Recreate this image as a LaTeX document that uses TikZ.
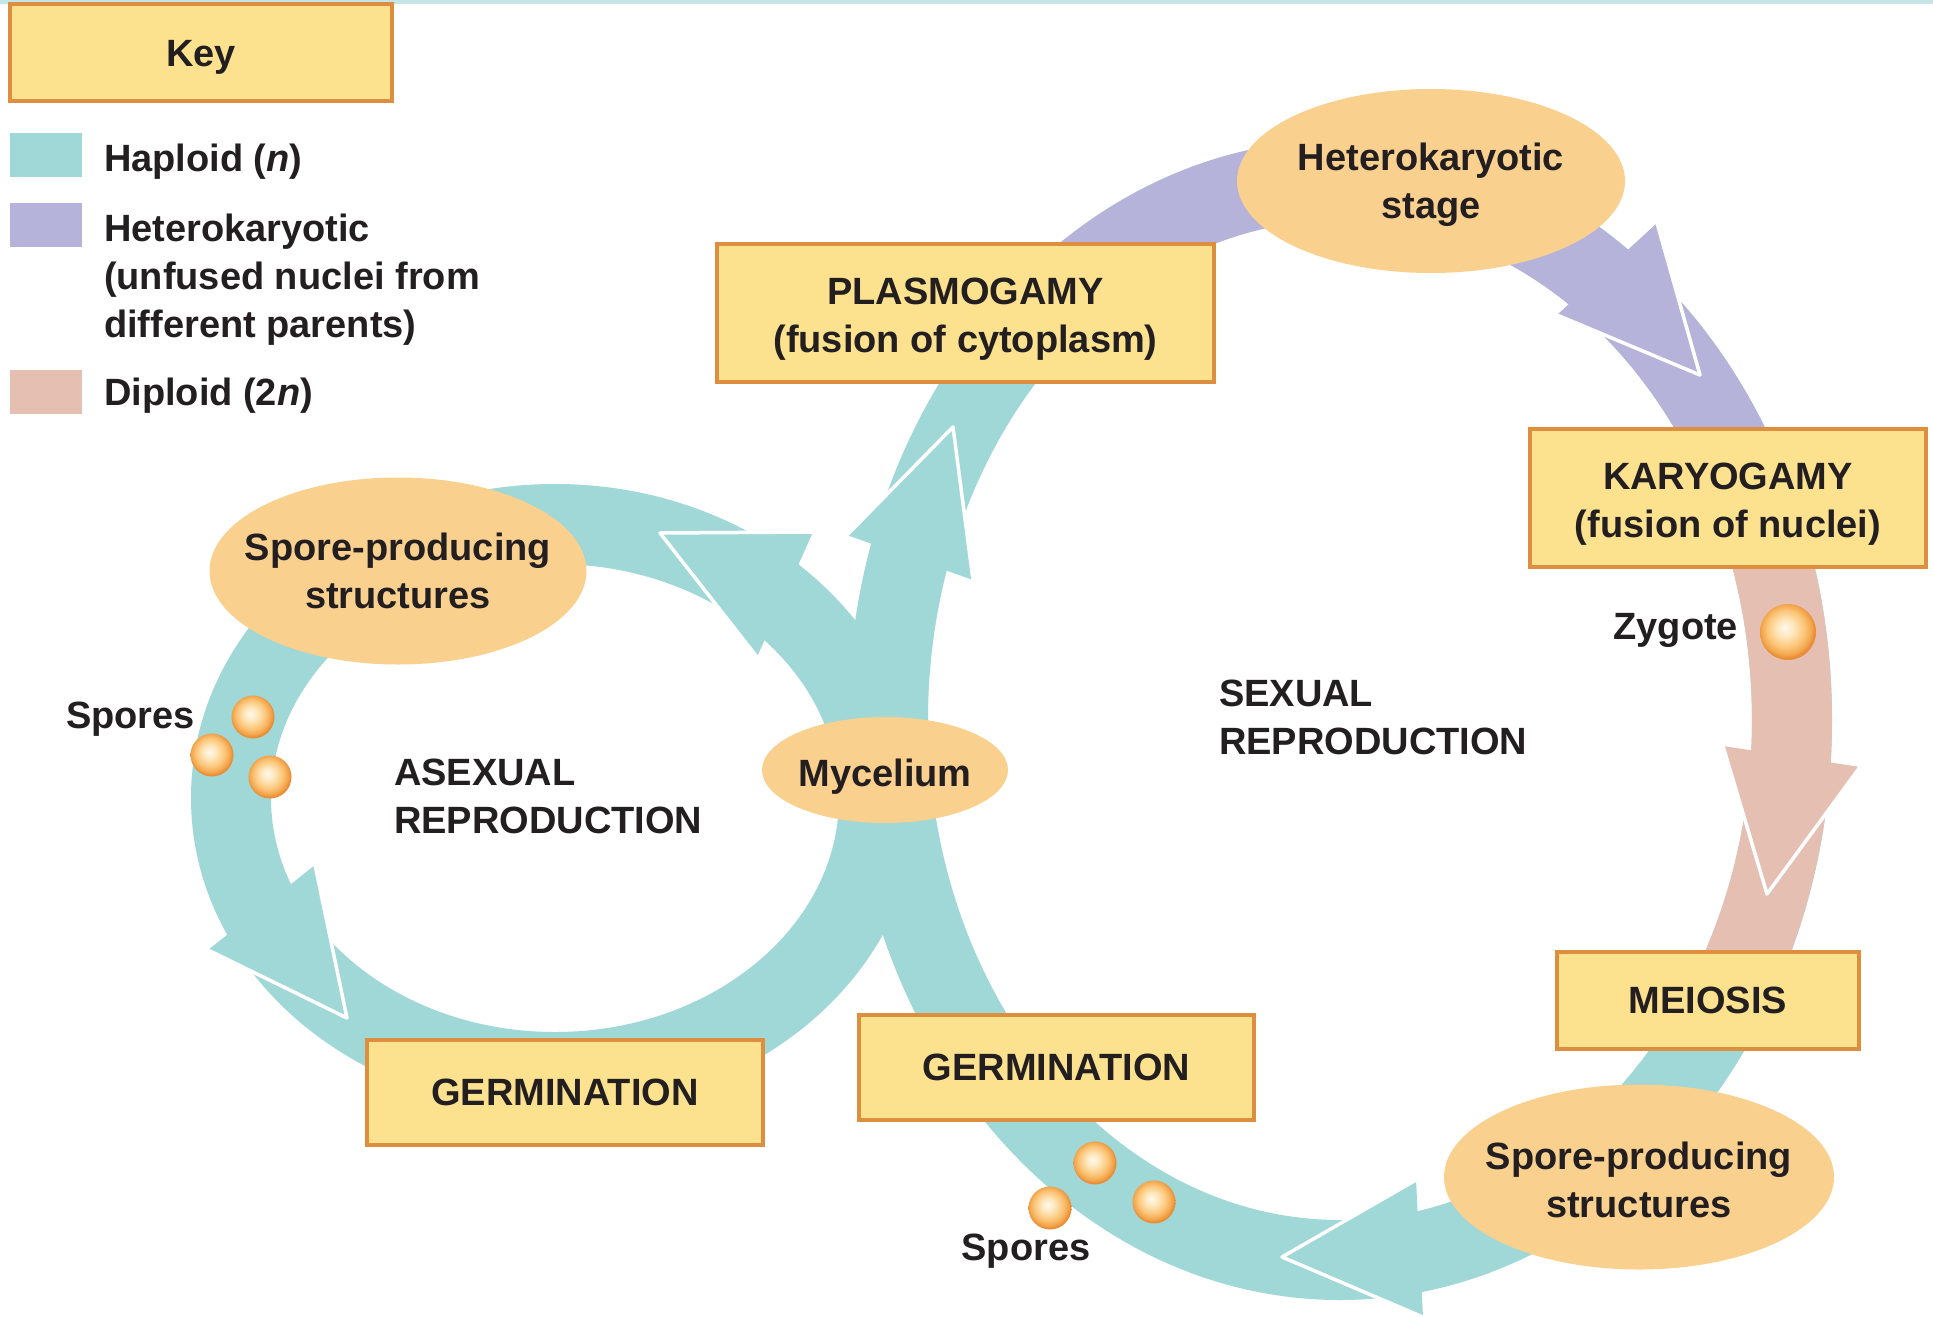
\documentclass[tikz,border=0pt]{standalone}
\usepackage{fontspec}
\setmainfont{Liberation Sans}
\usetikzlibrary{shapes.geometric}
\definecolor{tealc}{RGB}{160,215,215}
\definecolor{purc}{RGB}{182,179,218}
\definecolor{pinkc}{RGB}{229,191,178}
\definecolor{boxfill}{RGB}{252,225,142}
\definecolor{boxline}{RGB}{221,142,62}
\definecolor{ellfill}{RGB}{250,208,142}
\definecolor{txtc}{RGB}{35,31,32}
\definecolor{stripc}{RGB}{197,230,232}
\definecolor{ballin}{RGB}{255,249,238}
\definecolor{ballhl}{RGB}{254,230,186}
\definecolor{ballmid}{RGB}{251,196,118}
\definecolor{ballout}{RGB}{242,162,72}
\definecolor{balledge}{RGB}{232,142,56}
\pgfdeclareradialshading{sporeshade}{\pgfpoint{-3bp}{4bp}}{color(0bp)=(ballin); color(8bp)=(ballhl); color(17bp)=(ballmid); color(23bp)=(ballout); color(25bp)=(balledge); color(50bp)=(balledge)}
\newcommand\arrowhd[4]{%
  \fill[#1] (#2) -- (#3) -- (#4) -- cycle;
  \draw[white, line width=3.5pt, line join=round] (#3) -- (#2) -- (#4);}
\begin{document}
\begin{tikzpicture}[x=1pt, y=-1pt,
  every node/.style={inner sep=0pt, outer sep=0pt, text=txtc, font=\fontsize{38}{48}\selectfont\bfseries},
  tealband/.style={draw=tealc, line width=80pt},
  purband/.style={draw=purc, line width=80pt},
  pinkband/.style={draw=pinkc, line width=80pt},
  stagebox/.style={rectangle, draw=boxline, line width=4pt, fill=boxfill, align=center},
  stageell/.style={ellipse, fill=ellfill},
  spore/.style={circle, minimum size=43pt, shade, shading=sporeshade},
  swatch/.style={rectangle, minimum width=72pt, minimum height=44pt}]

\useasboundingbox (0,0) rectangle (1933,1317);
\fill[white] (0,0) rectangle (1933,1317);
\fill[stripc] (0,0) rectangle (1933,3.5);

% ---- cycle centres
\coordinate (asexC) at (555,798);
\coordinate (sexC) at (1340,720);

% ---- bands
\draw[tealband] (asexC) ellipse [x radius=324, y radius=274];
\draw[tealband] (sexC) ellipse [x radius=452, y radius=540];
\draw[purband] plot[domain=225:335, samples=80] ({1340+452*cos(\x)}, {720+540*sin(\x)});
\draw[pinkband] plot[domain=335:390, samples=50] ({1340+452*cos(\x)}, {720+540*sin(\x)});

% ---- arrowheads
\coordinate (a1t) at (660,533);  \coordinate (a1b) at (813,532);  \coordinate (a1c) at (757,657);
\coordinate (a2t) at (953,427);  \coordinate (a2b) at (847,535);  \coordinate (a2c) at (973,580);
\coordinate (a3t) at (1700,375); \coordinate (a3b) at (1557,315); \coordinate (a3c) at (1657,223);
\coordinate (a4t) at (1767,894); \coordinate (a4b) at (1723,746); \coordinate (a4c) at (1860,767);
\coordinate (a5t) at (1282,1257);\coordinate (a5b) at (1416,1180);\coordinate (a5c) at (1423,1317);
\coordinate (a6t) at (347,1018); \coordinate (a6b) at (208,950);  \coordinate (a6c) at (315,865);
\arrowhd{tealc}{a1t}{a1b}{a1c}
\arrowhd{tealc}{a2t}{a2b}{a2c}
\arrowhd{purc}{a3t}{a3b}{a3c}
\arrowhd{pinkc}{a4t}{a4b}{a4c}
\arrowhd{tealc}{a5t}{a5b}{a5c}
\arrowhd{tealc}{a6t}{a6b}{a6c}

% ---- key
\node[stagebox, minimum width=382pt, minimum height=97pt, text height=27pt, text depth=0pt] (key) at (201,52.5) {Key};
\node[swatch, fill=tealc] (swH) at (46,155) {};
\node[swatch, fill=purc] (swK) at (46,225) {};
\node[swatch, fill=pinkc] (swD) at (46,391.5) {};
\node[anchor=base west] (lgH) at (104,171) {Haploid (\textit{n})};
\node[anchor=north west, align=left] (lgK) at (104,213.5) {Heterokaryotic\\(unfused nuclei from\\different parents)};
\node[anchor=base west] (lgD) at (104,405) {Diploid (2\textit{n})};

% ---- stage boxes
\node[stagebox, minimum width=497pt, minimum height=138pt] (plasmo) at (965.5,313) {\rule{0pt}{39pt}PLASMOGAMY\\(fusion of cytoplasm)};
\node[stagebox, minimum width=396pt, minimum height=138pt] (karyo) at (1728,498) {\rule{0pt}{38pt}KARYOGAMY\\(fusion of nuclei)};
\node[stagebox, minimum width=302pt, minimum height=97pt] (meiosis) at (1708,1000.5) {MEIOSIS};
\node[stagebox, minimum width=395pt, minimum height=105pt] (germR) at (1056.5,1067) {GERMINATION};
\node[stagebox, minimum width=396pt, minimum height=105pt] (germL) at (565,1092.5) {GERMINATION};

% ---- stage ellipses
\node[stageell, minimum width=388pt, minimum height=184pt,
  label={[align=center, yshift=-4pt]center:Heterokaryotic\\stage}] (hetero) at (1431,181) {};
\node[stageell, minimum width=390pt, minimum height=185pt,
  label={[align=center, yshift=-2.5pt]center:Spore-producing\\structures}] (sporeR) at (1639,1177) {};
\node[stageell, minimum width=377pt, minimum height=187pt,
  label={[align=center]center:Spore-producing\\structures}] (sporeL) at (398,571) {};
\node[stageell, minimum width=246pt, minimum height=106pt,
  label={[text height=27pt, text depth=0pt, yshift=-2.5pt]center:Mycelium}] (myc) at (885,770) {};

% ---- spores and zygote
\node[spore] (spL1) at (253,717) {};
\node[spore] (spL2) at (212,755) {};
\node[spore] (spL3) at (270,777) {};
\node[spore] (spB1) at (1095,1163) {};
\node[spore] (spB2) at (1154,1202) {};
\node[spore] (spB3) at (1050,1208) {};
\node[spore, minimum size=56pt] (zyg) at (1788,632) {};

% ---- labels
\node[anchor=base east] (spLlbl) at (195,728) {Spores};
\node[anchor=base] (spBlbl) at (1026,1260) {Spores};
\node[anchor=base east] (zyglbl) at (1738,639) {Zygote};
\node[anchor=west, align=left] (asex) at (394,796) {ASEXUAL\\REPRODUCTION};
\node[anchor=west, align=left] (sex) at (1219,717.5) {SEXUAL\\REPRODUCTION};
\end{tikzpicture}
\end{document}
